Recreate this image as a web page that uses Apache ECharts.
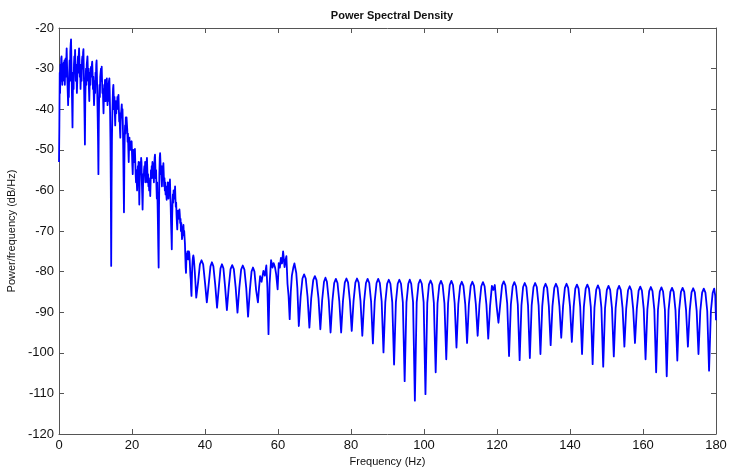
<!DOCTYPE html>
<html>
<head>
<meta charset="utf-8">
<script src="https://cdn.jsdelivr.net/npm/echarts@6/dist/echarts.min.js"></script>
<style>
html,body{margin:0;padding:0;background:#fff;}
#chart{width:730px;height:471px;}
</style>
</head>
<body>
<div id="chart"></div>
<script>
// Axis ranges and tick steps
const xRange = [0, 180], xStep = 20;
const yRange = [-120, -20], yStep = 10;

// PSD readings: [frequency Hz, power dB/Hz]
const lowBand = [
[0.0,-53],[0.1,-44],[0.2,-31],[0.3,-36],[0.4,-29],[0.5,-33],[0.6,-27.5],[0.7,-27],[0.8,-31],[0.9,-34],
[1.0,-29],[1.1,-33],[1.2,-31],[1.3,-28.5],[1.4,-32],[1.5,-28],[1.6,-34],[1.7,-30],[1.8,-27.5],[1.9,-32],
[2.0,-28],[2.1,-25],[2.2,-29],[2.3,-33],[2.4,-36],[2.5,-39],[2.6,-34],[2.7,-37],[2.8,-31],[2.9,-28],
[3.0,-33],[3.1,-26],[3.2,-24],[3.3,-22.8],[3.4,-28],[3.5,-34],[3.6,-39],[3.7,-44.5],[3.8,-36],[3.9,-31],
[4.0,-35],[4.1,-29],[4.2,-27],[4.3,-30],[4.4,-25.4],[4.5,-29],[4.6,-33],[4.7,-29],[4.8,-31],[4.9,-36],
[5.0,-33],[5.1,-29],[5.2,-27],[5.3,-31],[5.4,-27],[5.5,-25],[5.6,-28],[5.7,-32],[5.8,-29],[5.9,-35],
[6.0,-32],[6.1,-29],[6.2,-33],[6.3,-28],[6.4,-27],[6.5,-30],[6.6,-26],[6.7,-25.2],[6.8,-31],[6.9,-36],
[7.0,-42],[7.1,-48.7],[7.2,-38],[7.3,-33],[7.4,-30],[7.5,-34],[7.6,-29],[7.7,-28],[7.8,-27],[7.9,-30],
[8.0,-33],[8.1,-30],[8.2,-35],[8.3,-38],[8.4,-34],[8.5,-31],[8.6,-34],[8.7,-30],[8.8,-29.5],[8.9,-32],
[9.0,-29],[9.1,-28.3],[9.2,-31],[9.3,-35],[9.4,-32],[9.5,-36],[9.6,-39],[9.7,-36],[9.8,-33],[9.9,-36],
[10.0,-31],[10.1,-33],[10.2,-29],[10.3,-28],[10.4,-32],[10.5,-37],[10.6,-42],[10.7,-48],[10.8,-56],[10.9,-44],
[11.0,-37],[11.1,-34],[11.2,-37],[11.3,-32],[11.4,-31],[11.5,-30],[11.6,-33],[11.7,-29.5],[11.8,-33],[11.9,-36],
[12.0,-34],[12.1,-38],[12.2,-41],[12.3,-37],[12.4,-35],[12.5,-38],[12.6,-32.8],[12.7,-35],[12.8,-38],[12.9,-35],
[13.0,-33],[13.1,-32.4],[13.2,-36],[13.3,-39],[13.4,-36],[13.5,-38],[13.6,-34],[13.7,-33],[13.8,-32.4],[13.9,-36],
[14.0,-41],[14.1,-48],[14.2,-60],[14.3,-78.6],[14.4,-60],[14.5,-48],[14.6,-42],[14.7,-38],[14.8,-35],[14.9,-34],
[15.0,-37],[15.1,-40],[15.2,-37],[15.3,-41],[15.4,-44],[15.5,-40],[15.6,-38],[15.7,-41],[15.8,-38],[15.9,-40],
[16.0,-37],[16.1,-39],[16.2,-37],[16.3,-36.5],[16.4,-40],[16.5,-43],[16.6,-41],[16.7,-45],[16.8,-47],[16.9,-43],
[17.0,-41],[17.1,-40],[17.2,-38.8],[17.3,-42],[17.4,-40],[17.5,-44],[17.6,-50],[17.7,-58],[17.8,-65.4],[17.9,-54],
[18.0,-47],[18.1,-44],[18.2,-46],[18.3,-42],[18.4,-44],[18.5,-42],[18.6,-41.8],[18.7,-45],[18.8,-48],[18.9,-46],
[19.0,-50],[19.1,-53],[19.2,-49],[19.3,-47],[19.4,-50],[19.5,-48],[19.6,-50],[19.7,-48],[19.8,-49],[19.9,-47.9],
[20.0,-51],[20.1,-54],[20.2,-56],[20.3,-52],[20.4,-50],[20.5,-53],[20.6,-50],[20.7,-51],[20.8,-49.8],[20.9,-53],
[21.0,-56],[21.1,-58],[21.2,-55],[21.3,-58],[21.4,-60],[21.5,-57],[21.6,-54],[21.7,-56],[21.8,-53],[21.9,-57],
[22.0,-63.5],[22.1,-58],[22.2,-55],[22.3,-53],[22.4,-56],[22.5,-52],[22.6,-53],[22.7,-58],[22.8,-61],[22.9,-64.7],
[23.0,-60],[23.1,-56],[23.2,-58],[23.3,-55],[23.4,-54],[23.5,-56],[23.6,-53],[23.7,-55],[23.8,-58],[23.9,-54],
[24.0,-53],[24.1,-52],[24.2,-55],[24.3,-58],[24.4,-56],[24.5,-59],[24.6,-57],[24.7,-60],[24.8,-58],[24.9,-59],
[25.0,-61.4],[25.1,-58],[25.2,-55],[25.3,-57],[25.4,-54],[25.5,-56],[25.6,-53],[25.7,-54],[25.8,-57],[25.9,-55],
[26.0,-58],[26.1,-54],[26.2,-52],[26.3,-51.2],[26.4,-54],[26.5,-57],[26.6,-55],[26.7,-59],[26.8,-62],[26.9,-58],
[27.0,-63],[27.1,-68],[27.2,-74],[27.3,-79],[27.4,-65],[27.5,-56],[27.6,-52],[27.7,-50.8],[27.8,-53],[27.9,-56],
[28.0,-54],[28.1,-57],[28.2,-59],[28.3,-56],[28.4,-54],[28.5,-55],[28.6,-53.3],[28.7,-56],[28.8,-59],[28.9,-57],
[29.0,-60],[29.1,-58],[29.2,-61],[29.3,-59],[29.4,-61],[29.5,-62.3],[29.6,-59],[29.7,-61],[29.8,-58],[29.9,-60],
[30.0,-62],[30.1,-59],[30.2,-58],[30.3,-60],[30.4,-57.3],[30.5,-61],[30.6,-64],[30.7,-68],[30.8,-71],[30.9,-74.5],
[31.0,-67],[31.1,-63],[31.2,-61],[31.3,-63],[31.4,-60],[31.5,-62],[31.6,-60],[31.7,-61],[31.8,-59],[31.9,-62],
[32.0,-64],[32.1,-63],[32.2,-66],[32.3,-68],[32.4,-69.6],[32.5,-67],[32.6,-65],[32.7,-67],[32.8,-65],[32.9,-66],
[33.0,-64.7],[33.1,-66],[33.2,-68],[33.3,-67],[33.4,-70],[33.5,-68],[33.6,-70],[33.7,-72],[33.8,-71.3],[33.9,-69],
[34.0,-70],[34.1,-68.5],[34.2,-71],[34.3,-70],[34.4,-70.4],[34.5,-73],[34.6,-76],[34.7,-79],[34.8,-80.3],[34.9,-77],
[35.0,-75.5],[35.1,-77],[35.2,-75],[35.3,-76],[35.4,-75],[35.5,-77],[35.6,-75],[35.7,-75.5],[35.8,-77],[35.9,-79],
[36.0,-81],[36.1,-82],[36.2,-84.5],[36.3,-86],[36.4,-82],[36.5,-79],[36.6,-77.5],[36.7,-76.5],[36.8,-76],[36.9,-76.5],
[37.0,-77.5],[37.2,-80],[37.4,-83],[37.6,-86.4]
];

const midLobes = [
[38.1,-82.7],[38.6,-78.2],[39.05,-77.2],[39.5,-78.2],[40.0,-82.7],[40.5,-87.6],
[41.0,-83.2],[41.5,-78.7],[41.9,-77.7],[42.3,-78.7],[42.8,-83.2],[43.3,-88.9],
[43.8,-83.7],[44.25,-79.2],[44.65,-78.2],[45.05,-79.2],[45.5,-83.7],[46.0,-89.5],
[46.5,-83.9],[47.0,-79.4],[47.45,-78.4],[47.9,-79.4],[48.4,-83.9],[48.9,-90.1],
[49.4,-84.0],[49.9,-79.5],[50.35,-78.5],[50.8,-79.5],[51.3,-84.0],[51.8,-91.1],
[52.3,-84.5],[52.75,-80.0],[53.15,-79.0],[53.55,-80.0],[54.0,-84.5],[54.5,-87.6]
];

const humpBand = [
[54.8,-84],[55.1,-81.1],[55.5,-82.5],[56.0,-79.8],[56.4,-81],[56.8,-78.5],[57.1,-84],[57.4,-95.4],[57.7,-83],[58.1,-77.2],
[58.5,-79],[58.8,-77.9],[59.2,-79],[59.5,-80.7],[59.9,-84.4],[60.2,-77.9],[60.5,-79],[60.8,-76.6],[61.1,-78],[61.4,-75],
[61.8,-78.9],[62.1,-77],[62.3,-76.2],[62.6,-83],[62.9,-86],[63.2,-91.7],[63.5,-85],[63.8,-81],[64.2,-79],[64.5,-78],
[65.0,-80.3],[65.3,-84],[65.7,-93.4],
[66.2,-86.2],[66.7,-81.7],[67.15,-80.7],[67.6,-81.7],[68.1,-86.2],[68.6,-93.8],
[69.1,-86.6],[69.65,-82.1],[70.1,-81.1],[70.55,-82.1],[71.1,-86.6],[71.6,-94.2],
[72.1,-87],[72.6,-82.5],[73.0,-81.5],[73.4,-82.5],[73.9,-87],[74.4,-95]
];

const highLobes = [
[74.9,-87.3],[75.4,-82.8],[75.85,-81.8],[76.3,-82.8],[76.8,-87.3],[77.3,-95],
[77.8,-87.2],[78.3,-82.7],[78.75,-81.7],[79.2,-82.7],[79.7,-87.2],[80.2,-94.6],
[80.7,-87.2],[81.2,-82.7],[81.65,-81.7],[82.1,-82.7],[82.6,-87.2],[83.1,-95.8],
[83.6,-87.3],[84.1,-82.8],[84.55,-81.8],[85.0,-82.8],[85.5,-87.3],[86.0,-97.7],
[86.5,-87.3],[87.0,-82.8],[87.45,-81.8],[87.9,-82.8],[88.4,-87.3],[88.9,-99.9],
[89.4,-87.5],[89.9,-83],[90.35,-82],[90.8,-83],[91.3,-87.5],[91.8,-102.9],
[92.3,-87.5],[92.8,-83],[93.25,-82],[93.7,-83],[94.2,-87.5],[94.7,-107],
[95.2,-87.5],[95.7,-83],[96.1,-82],[96.5,-83],[97.0,-87.5],[97.5,-111.8],
[98.0,-87.5],[98.5,-83],[98.95,-82],[99.4,-83],[99.9,-87.5],[100.4,-110.2],
[100.9,-87.7],[101.35,-83.2],[101.8,-82.2],[102.25,-83.2],[102.7,-87.7],[103.2,-104.8],
[103.7,-87.8],[104.2,-83.3],[104.65,-82.3],[105.1,-83.3],[105.6,-87.8],[106.1,-101.6],
[106.6,-87.8],[107.05,-83.3],[107.5,-82.3],[107.95,-83.3],[108.4,-87.8],[108.9,-98.7],
[109.4,-88],[109.9,-83.5],[110.35,-82.5],[110.8,-83.5],[111.3,-88],[111.8,-97.6],
[112.3,-88],[112.8,-83.5],[113.25,-82.5],[113.7,-83.5],[114.2,-88],[114.7,-95.8],
[115.2,-88.1],[115.7,-83.6],[116.15,-82.6],[116.6,-83.6],[117.1,-88.1],[117.6,-96.5],
[118.1,-88.5],[118.6,-83.5],[119.0,-84.5],[119.4,-83.3],[119.9,-88.5],[120.4,-92.6],
[120.9,-87.9],[121.4,-83.4],[121.85,-82.4],[122.3,-83.4],[122.8,-87.9],[123.3,-100.8],
[123.8,-88.1],[124.3,-83.6],[124.75,-82.6],[125.2,-83.6],[125.7,-88.1],[126.2,-101.8],
[126.7,-88.3],[127.15,-83.8],[127.6,-82.8],[128.05,-83.8],[128.5,-88.3],[129.0,-101.3],
[129.5,-88.3],[130.0,-83.8],[130.45,-82.8],[130.9,-83.8],[131.4,-88.3],[131.9,-100.3],
[132.4,-88.5],[132.85,-84],[133.3,-83],[133.75,-84],[134.2,-88.5],[134.7,-98.1],
[135.2,-88.5],[135.7,-84],[136.15,-83],[136.6,-84],[137.1,-88.5],[137.6,-96.3],
[138.1,-88.5],[138.6,-84],[139.05,-83],[139.5,-84],[140.0,-88.5],[140.5,-97.3],
[141.0,-88.7],[141.45,-84.2],[141.9,-83.2],[142.35,-84.2],[142.8,-88.7],[143.3,-100.3],
[143.8,-88.7],[144.3,-84.2],[144.75,-83.2],[145.2,-84.2],[145.7,-88.7],[146.2,-102.8],
[146.7,-88.9],[147.2,-84.4],[147.65,-83.4],[148.1,-84.4],[148.6,-88.9],[149.1,-103.4],
[149.6,-89],[150.1,-84.5],[150.55,-83.5],[151.0,-84.5],[151.5,-89],[152.0,-100.9],
[152.5,-89],[153.0,-84.5],[153.45,-83.5],[153.9,-84.5],[154.4,-89],[154.9,-98.5],
[155.4,-89.1],[155.9,-84.6],[156.35,-83.6],[156.8,-84.6],[157.3,-89.1],[157.8,-97.6],
[158.3,-89.2],[158.8,-84.7],[159.25,-83.7],[159.7,-84.7],[160.2,-89.2],[160.7,-101.6],
[161.2,-89.3],[161.7,-84.8],[162.15,-83.8],[162.6,-84.8],[163.1,-89.3],[163.6,-104.8],
[164.1,-89.4],[164.6,-84.9],[165.05,-83.9],[165.5,-84.9],[166.0,-89.4],[166.5,-105.8],
[167.0,-89.5],[167.5,-85],[167.95,-84],[168.4,-85],[168.9,-89.5],[169.4,-101.9],
[169.9,-89.5],[170.4,-85],[170.85,-84],[171.3,-85],[171.8,-89.5],[172.3,-98.5],
[172.8,-89.6],[173.3,-85.1],[173.75,-84.1],[174.2,-85.1],[174.7,-89.6],[175.2,-100.3],
[175.7,-89.7],[176.2,-85.2],[176.65,-84.2],[177.1,-85.2],[177.6,-89.7],[178.1,-104.4],
[178.6,-89.7],[179.1,-85.2],[179.5,-84.2],[179.8,-86],[180.0,-92]
];

const psd = lowBand.concat(midLobes, humpBand, highLobes);

const FONT = 'Liberation Sans, Arial, sans-serif';
const AXC = '#555';
const chart = echarts.init(document.getElementById('chart'), null, {renderer: 'canvas'});

const axisBase = {
  type: 'value',
  axisLine: {show: true, onZero: false, lineStyle: {color: AXC, width: 1}},
  axisTick: {show: true, inside: true, length: 5, lineStyle: {color: AXC}},
  splitLine: {show: false},
  axisLabel: {show: true, color: '#111', fontSize: 13, fontFamily: FONT}
};

chart.setOption({
  animation: false,
  backgroundColor: '#fff',
  title: {
    text: 'Power Spectral Density',
    left: 387, top: 5, textAlign: 'center',
    textStyle: {fontSize: 11, fontWeight: 'bold', fontFamily: FONT, color: '#111'}
  },
  grid: {left: 59, right: 14, top: 28, bottom: 37, containLabel: false, outerBoundsMode: 'none'},
  xAxis: [
    Object.assign({}, axisBase, {
      position: 'bottom', min: xRange[0], max: xRange[1], interval: xStep,
      name: 'Frequency (Hz)', nameLocation: 'middle', nameGap: 21,
      nameTextStyle: {fontSize: 11, fontFamily: FONT, color: '#111'},
      axisLabel: Object.assign({}, axisBase.axisLabel, {margin: 5})
    }),
    Object.assign({}, axisBase, {
      position: 'top', min: xRange[0], max: xRange[1], interval: xStep,
      axisLabel: {show: false}
    })
  ],
  yAxis: [
    Object.assign({}, axisBase, {
      position: 'left', min: yRange[0], max: yRange[1], interval: yStep,
      name: 'Power/frequency (dB/Hz)', nameLocation: 'middle', nameGap: 38,
      nameTextStyle: {fontSize: 11, fontFamily: FONT, color: '#111'},
      axisLabel: Object.assign({}, axisBase.axisLabel, {margin: 5})
    }),
    Object.assign({}, axisBase, {
      position: 'right', min: yRange[0], max: yRange[1], interval: yStep,
      axisLabel: {show: false}
    })
  ],
  series: [{
    type: 'line',
    xAxisIndex: 0, yAxisIndex: 0,
    data: psd,
    showSymbol: false,
    symbol: 'none',
    sampling: null,
    clip: true,
    lineStyle: {color: '#0000ff', width: 1.8, join: 'round'}
  }]
});
</script>
</body>
</html>
